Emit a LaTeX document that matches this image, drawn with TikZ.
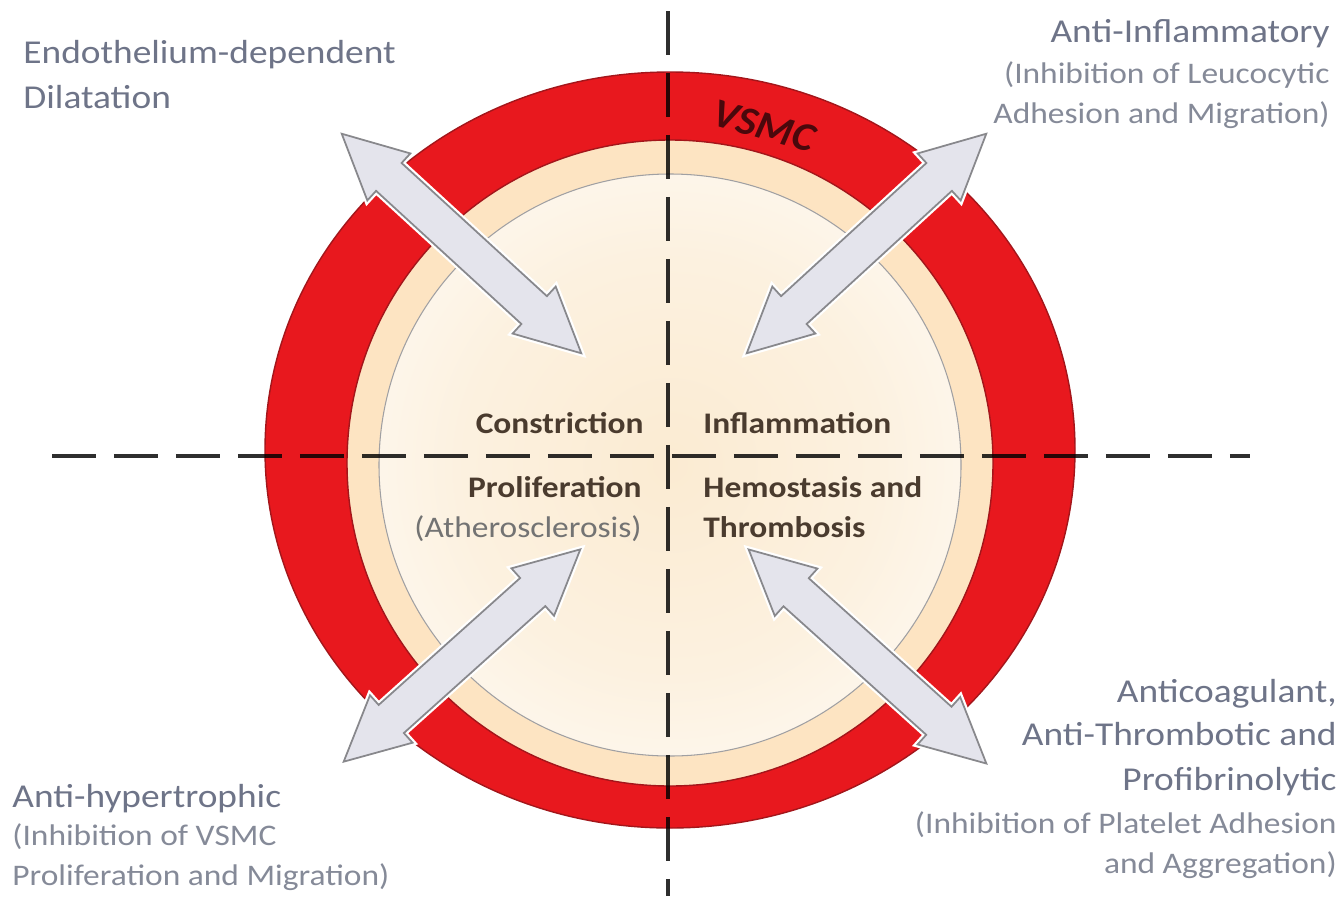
\documentclass[tikz,border=0pt]{standalone}
\usepackage{fontspec}
\setmainfont{Carlito}
\usetikzlibrary{shapes.arrows}

\definecolor{ringred}{HTML}{E8181E}
\definecolor{ringedge}{HTML}{A3161B}
\definecolor{creamring}{HTML}{FDE4C2}
\definecolor{creamcore}{HTML}{FBEBD2}
\definecolor{arrowfill}{HTML}{E4E4EC}
\definecolor{arrowline}{HTML}{88888C}
\definecolor{labelgray}{HTML}{6E7488}
\definecolor{sublabel}{HTML}{858A98}
\definecolor{innerbrown}{HTML}{4A3B2E}
\definecolor{vsmcdark}{HTML}{4A080C}

\pgfdeclareradialshading{coreshade}{\pgfpoint{0bp}{0bp}}{color(0bp)=(creamcore); color(18bp)=(creamcore!70!white); color(40bp)=(white); color(50bp)=(white)}

\begin{document}
\begin{tikzpicture}[x=0.02cm, y=-0.02cm,
	dashline/.style = {line width=2.6pt, draw=black, opacity=0.82, dash pattern=on 0.88cm off 0.36cm},
	arrowbox/.style = {double arrow, draw=arrowline, fill=arrowfill, line width=1pt, double arrow tip angle=53, double arrow head extend=0.26cm, minimum width=1.24cm, minimum height=6.5cm, inner xsep=0pt, inner ysep=0.36cm, preaction={draw=white, line width=3.5pt}},
	headlbl/.style = {font=\fontsize{19}{23}\selectfont, text=labelgray, inner sep=0pt, xscale=1.12},
	sublbl/.style = {font=\fontsize{17}{21}\selectfont, text=sublabel, inner sep=0pt, xscale=1.12},
	innerlbl/.style = {font=\fontsize{17}{21}\selectfont\bfseries, text=innerbrown, inner sep=0pt, xscale=1.12}]
	\useasboundingbox (0,0) rectangle (1341,896);
	% vessel wall
	\shade[shading=coreshade] (670,465) circle [radius=291];
	\fill[creamring, even odd rule] (670,463) circle [radius=323] (670,465) circle [radius=291];
	\draw[arrowline!80, line width=0.6pt] (670,465) circle [radius=291];
	\fill[ringred, even odd rule] (670,450) ellipse [x radius=405, y radius=378] (670,463) circle [radius=323];
	\draw[ringedge, line width=0.8pt] (670,450) ellipse [x radius=405, y radius=378];
	\draw[ringedge, line width=0.8pt] (670,463) circle [radius=323];
	\node[font=\fontsize{23}{27}\selectfont\bfseries\itshape, text=vsmcdark, rotate=-16, xscale=1.05, inner sep=0pt] (vsmc) at (764,126) {VSMC};
	% axes
	\coordinate (vtop) at (668,11);
	\coordinate (vbot) at (668,896);
	\coordinate (hleft) at (52,456);
	\coordinate (hright) at (1250,456);
	\draw[dashline] (vtop) -- (vbot);
	\draw[dashline] (hleft) -- (hright);
	% arrows
	\node[arrowbox, rotate=-42.5] (atl) at (461.5,243.5) {};
	\node[arrowbox, rotate=42.5] (atr) at (866.5,243.5) {};
	\node[arrowbox, rotate=41.9, minimum height=6.36cm] (abl) at (462,655.5) {};
	\node[arrowbox, rotate=-42, minimum height=6.4cm] (abr) at (867.5,656.5) {};
	% inner labels
	\node[innerlbl, anchor=base east] (constr) at (644,433) {Constriction};
	\node[innerlbl, anchor=base west] (infl) at (703,433) {Inflammation};
	\node[innerlbl, anchor=base east] (prolif) at (642,497) {Proliferation};
	\node[innerlbl, anchor=base east, font=\fontsize{17}{21}\selectfont, text=black!55] (athero) at (642,537) {(Atherosclerosis)};
	\node[innerlbl, anchor=base west] (hemo) at (703,497) {Hemostasis and};
	\node[innerlbl, anchor=base west] (thromb) at (703,537) {Thrombosis};
	% outer labels
	\node[headlbl, anchor=base west] (endo1) at (23,63) {Endothelium-dependent};
	\node[headlbl, anchor=base west] (endo2) at (23,108) {Dilatation};
	\node[headlbl, anchor=base east] (antiinfl1) at (1330,42) {Anti-Inflammatory};
	\node[sublbl, anchor=base east] (antiinfl2) at (1330,83) {(Inhibition of Leucocytic};
	\node[sublbl, anchor=base east] (antiinfl3) at (1330,123) {Adhesion and Migration)};
	\node[headlbl, anchor=base west] (antihyp1) at (12,807) {Anti-hypertrophic};
	\node[sublbl, anchor=base west] (antihyp2) at (12,845) {(Inhibition of VSMC};
	\node[sublbl, anchor=base west] (antihyp3) at (12,885) {Proliferation and Migration)};
	\node[headlbl, anchor=base east] (anticoag1) at (1337,702) {Anticoagulant,};
	\node[headlbl, anchor=base east] (anticoag2) at (1337,745) {Anti-Thrombotic and};
	\node[headlbl, anchor=base east] (anticoag3) at (1337,790) {Profibrinolytic};
	\node[sublbl, anchor=base east] (anticoag4) at (1337,833) {(Inhibition of Platelet Adhesion};
	\node[sublbl, anchor=base east] (anticoag5) at (1337,873) {and Aggregation)};
\end{tikzpicture}
\end{document}
